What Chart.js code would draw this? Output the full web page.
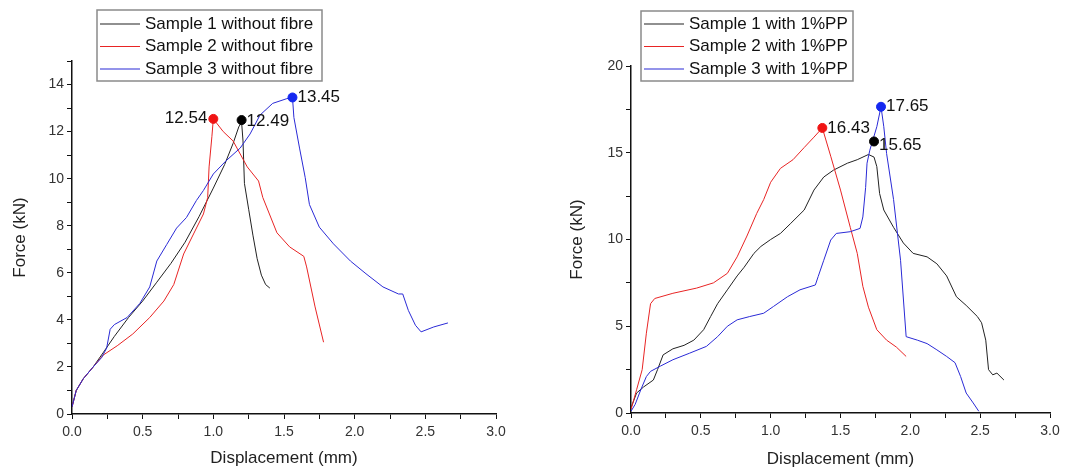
<!DOCTYPE html>
<html>
<head>
<meta charset="utf-8">
<script src="https://cdn.jsdelivr.net/npm/chart.js@4.4.1/dist/chart.umd.min.js"></script>
<style>
  body { margin: 0; background: #fff; }
  .panel { position: absolute; top: 0; width: 540px; height: 470px; }
  #left-panel { left: 0; }
  #right-panel { left: 540px; }
</style>
</head>
<body>
<div class="panel" id="left-panel"><canvas id="leftChart" width="540" height="470"></canvas></div>
<div class="panel" id="right-panel"><canvas id="rightChart" width="540" height="470"></canvas></div>
<script>
// data: left plot (without fibre)
const leftLabels = ['Sample 1 without fibre', 'Sample 2 without fibre', 'Sample 3 without fibre'];
const leftS1Disp = [0, 0.03, 0.08, 0.15, 0.22, 0.3, 0.4, 0.5, 0.6, 0.7, 0.8, 0.9, 1.0, 1.08, 1.14, 1.18, 1.2, 1.21, 1.22, 1.25, 1.28, 1.31, 1.34, 1.37, 1.40];
const leftS1Force = [0.3, 1.0, 1.5, 2.0, 2.6, 3.3, 4.1, 4.8, 5.6, 6.4, 7.3, 8.4, 9.6, 10.6, 11.5, 12.2, 12.4, 11.6, 9.8, 8.7, 7.6, 6.6, 5.9, 5.5, 5.35];
const leftS2Disp = [0, 0.03, 0.08, 0.15, 0.22, 0.32, 0.43, 0.55, 0.65, 0.72, 0.79, 0.86, 0.93, 0.96, 0.97, 0.99, 1.0, 1.07, 1.14, 1.24, 1.32, 1.35, 1.45, 1.54, 1.64, 1.66, 1.72, 1.78];
const leftS2Force = [0.3, 1.0, 1.5, 2.0, 2.5, 2.9, 3.4, 4.1, 4.8, 5.5, 6.8, 7.65, 8.5, 9.2, 10.5, 11.8, 12.54, 12.0, 11.6, 10.5, 9.9, 9.2, 7.7, 7.1, 6.7, 6.25, 4.55, 3.05];
const leftS3Disp = [0, 0.03, 0.08, 0.15, 0.21, 0.245, 0.27, 0.3, 0.39, 0.48, 0.55, 0.6, 0.67, 0.74, 0.81, 0.88, 0.93, 1.0, 1.09, 1.19, 1.26, 1.33, 1.42, 1.52, 1.56, 1.57, 1.61, 1.65, 1.68, 1.75, 1.85, 1.97, 2.08, 2.2, 2.31, 2.34, 2.38, 2.43, 2.47, 2.56, 2.66];
const leftS3Force = [0.3, 1.0, 1.5, 2.0, 2.4, 2.8, 3.6, 3.8, 4.1, 4.7, 5.4, 6.5, 7.2, 7.9, 8.35, 9.07, 9.5, 10.2, 10.76, 11.3, 11.9, 12.7, 13.2, 13.4, 13.45, 12.6, 11.3, 10.05, 8.9, 7.94, 7.23, 6.5, 5.96, 5.4, 5.1, 5.1, 4.4, 3.77, 3.49, 3.7, 3.87];
const leftPeakDisp = [1.2, 1.0, 1.56];
const leftPeakForce = [12.49, 12.54, 13.45];

// data: right plot (with 1% PP)
const rightLabels = ['Sample 1 with 1%PP', 'Sample 2 with 1%PP', 'Sample 3 with 1%PP'];
const rightS1Disp = [0, 0.04, 0.09, 0.16, 0.19, 0.23, 0.3, 0.38, 0.45, 0.52, 0.57, 0.62, 0.69, 0.76, 0.81, 0.88, 0.93, 1.0, 1.07, 1.14, 1.24, 1.31, 1.38, 1.45, 1.55, 1.62, 1.7, 1.74, 1.76, 1.78, 1.81, 1.88, 1.95, 2.02, 2.12, 2.19, 2.26, 2.33, 2.4, 2.48, 2.51, 2.54, 2.56, 2.59, 2.62, 2.67];
const rightS1Force = [0.3, 1.15, 1.5, 1.9, 2.5, 3.35, 3.7, 3.9, 4.2, 4.8, 5.56, 6.3, 7.1, 7.9, 8.4, 9.2, 9.6, 10.0, 10.35, 10.9, 11.7, 12.85, 13.6, 14.0, 14.4, 14.6, 14.9, 14.75, 14.2, 12.65, 11.7, 10.7, 9.8, 9.2, 9.0, 8.6, 7.9, 6.7, 6.2, 5.56, 5.2, 4.2, 2.5, 2.2, 2.3, 1.9];
const rightS2Disp = [0, 0.04, 0.08, 0.11, 0.14, 0.17, 0.3, 0.47, 0.59, 0.69, 0.76, 0.83, 0.9, 0.95, 1.0, 1.07, 1.16, 1.24, 1.31, 1.37, 1.43, 1.5, 1.57, 1.62, 1.66, 1.7, 1.76, 1.83, 1.9, 1.97];
const rightS2Force = [0.2, 1.34, 2.5, 4.6, 6.3, 6.6, 6.9, 7.2, 7.5, 8.05, 9.0, 10.2, 11.5, 12.3, 13.3, 14.1, 14.6, 15.3, 15.9, 16.43, 14.8, 12.85, 10.7, 9.2, 7.3, 6.1, 4.8, 4.2, 3.8, 3.26];
const rightS3Disp = [0, 0.03, 0.07, 0.11, 0.14, 0.21, 0.3, 0.42, 0.54, 0.62, 0.69, 0.76, 0.85, 0.95, 1.02, 1.12, 1.21, 1.32, 1.34, 1.38, 1.43, 1.47, 1.57, 1.64, 1.66, 1.68, 1.69, 1.71, 1.76, 1.79, 1.81, 1.83, 1.88, 1.93, 1.97, 2.05, 2.12, 2.19, 2.26, 2.32, 2.36, 2.4, 2.45, 2.49];
const rightS3Force = [0.1, 0.5, 1.34, 2.1, 2.4, 2.7, 3.07, 3.45, 3.84, 4.4, 5.0, 5.37, 5.56, 5.75, 6.14, 6.7, 7.1, 7.38, 7.86, 8.8, 9.97, 10.35, 10.45, 10.64, 11.3, 13.0, 14.4, 15.15, 16.5, 17.65, 16.5, 14.96, 12.3, 8.8, 4.4, 4.2, 4.0, 3.64, 3.26, 2.9, 2.1, 1.15, 0.58, 0.1];
const rightPeakDisp = [1.74, 1.37, 1.79];
const rightPeakForce = [15.65, 16.43, 17.65];

// axis ranges / ticks
const xMax = 3.0, xStep = 0.25, xLabelStep = 0.5;
const leftYMax = 15, leftYStep = 1, leftYLabelStep = 2;
const rightYMax = 20, rightYStep = 2.5, rightYLabelStep = 5;

// styles
const lineColors = ['#222222', '#e82424', '#2a2ad6'];
const markerColors = ['#000000', '#f01414', '#1428f0'];
const FONT = 'Liberation Sans, Arial, sans-serif';

function toPoints(xs, ys) {
    return xs.map((x, i) => ({ x: x, y: ys[i] }));
}

function isStep(v, step) {
    const r = v / step;
    return Math.abs(r - Math.round(r)) < 1e-6;
}

// legend box drawn inside the canvas
function legendPlugin(box) {
    return {
        id: 'boxLegend',
        afterDraw(chart) {
            const ctx = chart.ctx;
            ctx.save();
            ctx.fillStyle = '#fff';
            ctx.fillRect(box.x, box.y, box.w, box.h);
            ctx.strokeStyle = '#8a8a8a';
            ctx.lineWidth = 1.5;
            ctx.strokeRect(box.x, box.y, box.w, box.h);
            ctx.font = '17px ' + FONT;
            ctx.textBaseline = 'middle';
            ctx.textAlign = 'left';
            for (let i = 0; i < 3; i++) {
                const ds = chart.data.datasets[i];
                const y = box.y + box.rowTop + i * box.rowGap;
                ctx.strokeStyle = ds.borderColor;
                ctx.lineWidth = 1.2;
                ctx.beginPath();
                ctx.moveTo(box.x + 3, y);
                ctx.lineTo(box.x + 43, y);
                ctx.stroke();
                ctx.fillStyle = '#111';
                ctx.fillText(ds.label, box.x + 48, y);
            }
            ctx.restore();
        }
    };
}

// peak value labels next to markers
function peakLabelPlugin(peakX, peakY, sides, dys) {
    return {
        id: 'peakLabels',
        afterDatasetsDraw(chart) {
            const ctx = chart.ctx;
            const xs = chart.scales.x, ys = chart.scales.y;
            ctx.save();
            ctx.font = '17px ' + FONT;
            ctx.fillStyle = '#111';
            ctx.textBaseline = 'middle';
            peakX.forEach((v, i) => {
                const px = xs.getPixelForValue(v);
                const py = ys.getPixelForValue(peakY[i]);
                if (sides[i] === 'left') {
                    ctx.textAlign = 'right';
                    ctx.fillText(peakY[i].toFixed(2), px - 6, py + dys[i]);
                } else {
                    ctx.textAlign = 'left';
                    ctx.fillText(peakY[i].toFixed(2), px + 5, py + dys[i]);
                }
            });
            ctx.restore();
        }
    };
}

function buildChart(canvasId, cfg) {
    const ctx = document.getElementById(canvasId).getContext('2d');
    const datasets = cfg.series.map((s, i) => ({
        label: cfg.labels[i],
        data: toPoints(s[0], s[1]),
        showLine: true,
        borderColor: lineColors[i],
        borderWidth: 1,
        pointRadius: 0,
        tension: 0,
        order: 3 - i
    }));
    datasets.push({
        label: 'peaks',
        data: toPoints(cfg.peakX, cfg.peakY),
        showLine: false,
        pointRadius: 4.5,
        pointBackgroundColor: markerColors,
        pointBorderColor: markerColors,
        order: -1
    });

    return new Chart(ctx, {
        type: 'scatter',
        data: { datasets: datasets },
        options: {
            responsive: false,
            animation: false,
            layout: { padding: cfg.padding },
            plugins: {
                legend: { display: false },
                tooltip: { enabled: false }
            },
            scales: {
                x: {
                    type: 'linear',
                    min: 0,
                    max: xMax,
                    afterFit(scale) { scale.height = cfg.xAxisHeight; },
                    border: { display: true, color: '#111', width: 1.5 },
                    grid: { drawOnChartArea: false, tickLength: 5, color: '#111', tickColor: '#111' },
                    ticks: {
                        stepSize: xStep,
                        padding: 5,
                        color: '#333',
                        font: { family: FONT, size: 14 },
                        maxRotation: 0,
                        autoSkip: false,
                        callback: (v) => isStep(v, xLabelStep) ? v.toFixed(1) : ''
                    },
                    title: {
                        display: true,
                        text: 'Displacement (mm)',
                        color: '#222',
                        font: { family: FONT, size: 17 },
                        padding: { top: 0, bottom: cfg.xTitlePad }
                    }
                },
                y: {
                    type: 'linear',
                    min: 0,
                    max: cfg.yMax,
                    afterFit(scale) { scale.width = cfg.yAxisWidth; },
                    border: { display: true, color: '#111', width: 1.5 },
                    grid: { drawOnChartArea: false, tickLength: 5, color: '#111', tickColor: '#111' },
                    ticks: {
                        stepSize: cfg.yStep,
                        padding: 3,
                        color: '#333',
                        font: { family: FONT, size: 14 },
                        autoSkip: false,
                        callback: (v) => isStep(v, cfg.yLabelStep) ? String(v) : ''
                    },
                    title: {
                        display: true,
                        text: 'Force (kN)',
                        color: '#222',
                        font: { family: FONT, size: 17 },
                        padding: { top: cfg.yTitlePad, bottom: 0 }
                    }
                }
            }
        },
        plugins: [
            peakLabelPlugin(cfg.peakX, cfg.peakY, cfg.sides, cfg.dys),
            legendPlugin(cfg.legendBox)
        ]
    });
}

// left chart
buildChart('leftChart', {
    labels: leftLabels,
    series: [[leftS1Disp, leftS1Force], [leftS2Disp, leftS2Force], [leftS3Disp, leftS3Force]],
    peakX: leftPeakDisp,
    peakY: leftPeakForce,
    sides: ['right', 'left', 'right'],
    dys: [1, -1, 0],
    yMax: leftYMax,
    yStep: leftYStep,
    yLabelStep: leftYLabelStep,
    padding: { left: 0, right: 44, top: 61, bottom: 0 },
    yAxisWidth: 72,
    xAxisHeight: 56,
    yTitlePad: 10,
    xTitlePad: 1,
    legendBox: { x: 97, y: 10, w: 225, h: 71, rowTop: 14, rowGap: 22.5 }
});

// right chart
buildChart('rightChart', {
    labels: rightLabels,
    series: [[rightS1Disp, rightS1Force], [rightS2Disp, rightS2Force], [rightS3Disp, rightS3Force]],
    peakX: rightPeakDisp,
    peakY: rightPeakForce,
    sides: ['right', 'right', 'right'],
    dys: [4, 0, 0],
    yMax: rightYMax,
    yStep: rightYStep,
    yLabelStep: rightYLabelStep,
    padding: { left: 0, right: 30, top: 66, bottom: 0 },
    yAxisWidth: 91,
    xAxisHeight: 57,
    yTitlePad: 27,
    xTitlePad: 0,
    legendBox: { x: 101, y: 11, w: 212, h: 70, rowTop: 13, rowGap: 22.5 }
});
</script>
</body>
</html>
